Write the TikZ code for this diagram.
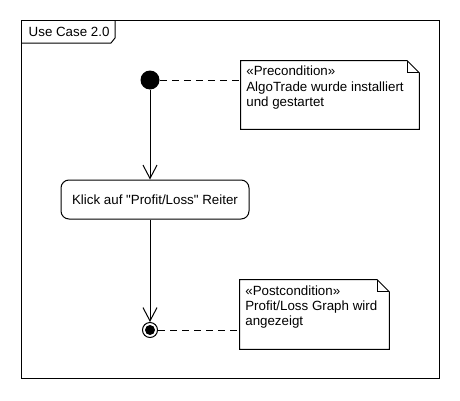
\documentclass[tikz,border=0pt]{standalone}
\usepackage{fontspec}
\setmainfont{Liberation Sans}
\usetikzlibrary{arrows.meta,positioning,calc}
\newcommand{\txt}{\fontsize{10}{11.6}\selectfont}
\tikzset{
  frame/.style  ={draw,line width=0.75pt},
  startn/.style ={circle,fill=black,minimum size=14.25pt,inner sep=0pt},
  endn/.style   ={circle,draw,line width=0.75pt,minimum size=11.25pt,inner sep=0pt,
                  path picture={\fill[black] (path picture bounding box.center) circle (3.75pt);}},
  act/.style    ={draw,line width=0.75pt,rounded corners=6pt,minimum width=141pt,minimum height=29.25pt,inner sep=0pt,font=\txt},
  note/.style   ={inner sep=4pt,font=\txt},
  notebox/.style={line width=0.75pt},
  link/.style   ={line width=0.75pt,dash pattern=on 5.25pt off 3.75pt},
  ar/.style     ={-{Straight Barb[length=10pt,width=10.5pt]},line width=0.75pt},
}

\begin{document}
\begin{tikzpicture}[x=0.75pt,y=-0.75pt]
  \useasboundingbox (0,0) rectangle (460,400);
  % frame with name tab
  \draw[frame] (21,20) rectangle (439,378);
  \draw[frame] (21,43) -- (111,43) -- (115,38) -- (115,20);
  \node[font=\txt,anchor=west] (uc) at (24,31.5) {Use Case 2.0};
  % flow
  \node[startn] (start) at (150,80) {};
  \node[act] (klick) at (155,199.5) {Klick auf \textquotedbl Profit/Loss\textquotedbl{} Reiter};
  \node[endn] (stop) at (150,330) {};
  \draw[ar] (start) -- (start |- klick.north);
  \draw[ar] (start |- klick.south) -- (stop);
  % notes
  \node[note] (pre) at (330,95) {\parbox[c][43pt][t]{125.5pt}{«Precondition»\\AlgoTrade wurde installiert\\und gestartet}};
  \node[note] (post) at (314.5,314.5) {\parbox[c][43.75pt][t]{103.75pt}{«Postcondition»\\Profit/Loss Graph wird\\angezeigt}};
  \foreach \n in {pre,post}{
    \draw[notebox] (\n.north west) -- ([xshift=-9pt]\n.north east) -- ([yshift=-9pt]\n.north east) -- (\n.south east) -- (\n.south west) -- cycle;
    \draw[notebox] ([xshift=-9pt]\n.north east) |- ([yshift=-9pt]\n.north east);
  }
  \draw[link] (start) -- (start -| pre.west);
  \draw[link] (stop) -- (stop -| post.west);
\end{tikzpicture}
\end{document}
